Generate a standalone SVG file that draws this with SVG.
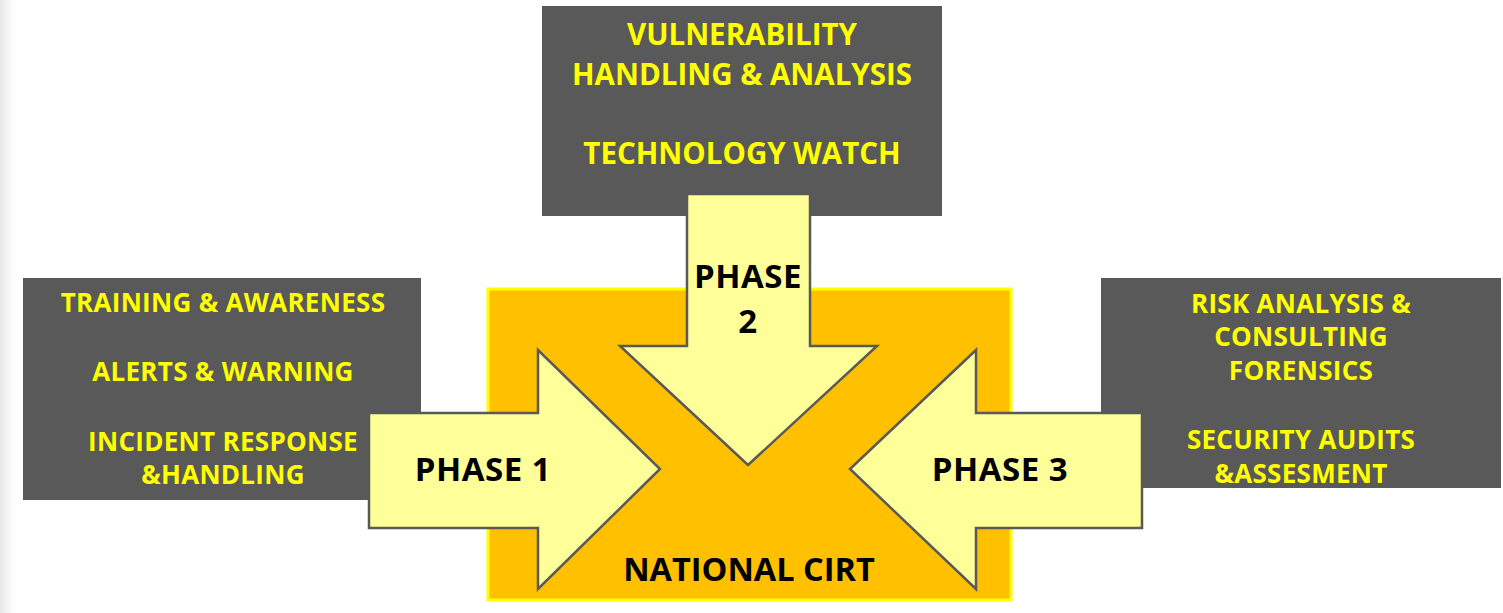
<svg xmlns="http://www.w3.org/2000/svg" width="1503" height="613" viewBox="0 0 1503 613">
<style>
.box{fill:#595959;}
.arrow{fill:#ffff99;stroke:#595959;stroke-width:2.5;stroke-linejoin:miter;}
.yt{font-family:"Open Sans",Lato,sans-serif;font-weight:bold;fill:#ffff00;text-anchor:middle;}
.sm{font-size:26px;letter-spacing:0.3px;}
.lg{font-size:29.5px;}
.bt{font-family:"Open Sans",Lato,sans-serif;font-weight:bold;fill:#000000;text-anchor:middle;font-size:33px;letter-spacing:0.5px;}
</style>
<defs>
<linearGradient id="edge" x1="0" y1="0" x2="1" y2="0">
<stop offset="0" stop-color="#e6e6e6"/>
<stop offset="1" stop-color="#ffffff"/>
</linearGradient>
</defs>
<rect x="0" y="0" width="1503" height="613" fill="#ffffff"/>
<rect x="0" y="0" width="14" height="613" fill="url(#edge)"/>
<g id="national-cirt">
<rect x="488" y="289" width="523" height="311" fill="#ffc000" stroke="#ffff00" stroke-width="3"/>
<text class="bt" x="749" y="581" style="font-size:32.5px;letter-spacing:0">NATIONAL CIRT</text>
</g>
<g id="box-top">
<rect class="box" x="542" y="6" width="400" height="210"/>
<text class="yt lg" x="742" y="45">VULNERABILITY</text>
<text class="yt lg" x="742" y="85">HANDLING &amp; ANALYSIS</text>
<text class="yt lg" x="742" y="164">TECHNOLOGY WATCH</text>
</g>
<g id="box-left">
<rect class="box" x="23" y="278" width="398" height="222"/>
<text class="yt sm" x="223" y="312">TRAINING &amp; AWARENESS</text>
<text class="yt sm" x="223" y="381">ALERTS &amp; WARNING</text>
<text class="yt sm" x="223" y="451">INCIDENT RESPONSE</text>
<text class="yt sm" x="223" y="484">&amp;HANDLING</text>
</g>
<g id="box-right">
<rect class="box" x="1101" y="278" width="400" height="210"/>
<text class="yt sm" x="1301" y="313">RISK ANALYSIS &amp;</text>
<text class="yt sm" x="1301" y="346">CONSULTING</text>
<text class="yt sm" x="1301" y="380">FORENSICS</text>
<text class="yt sm" x="1301" y="449">SECURITY AUDITS</text>
<text class="yt sm" x="1301" y="483">&amp;ASSESMENT</text>
</g>
<g id="connectors">
<g id="phase1">
<polygon class="arrow" points="369,413 538,413 538,350 660,469 538,589 538,528 369,528"/>
<text class="bt" x="483" y="481">PHASE 1</text>
</g>
<g id="phase2">
<polygon class="arrow" points="687,194 810,194 810,346 877,346 748,465 620,346 687,346"/>
<text class="bt" x="748" y="288">PHASE</text>
<text class="bt" x="748" y="333">2</text>
</g>
<g id="phase3">
<polygon class="arrow" points="1142,413 976,413 976,350 850,469 976,589 976,528 1142,528"/>
<text class="bt" x="1000" y="481">PHASE 3</text>
</g>
</g>
</svg>
